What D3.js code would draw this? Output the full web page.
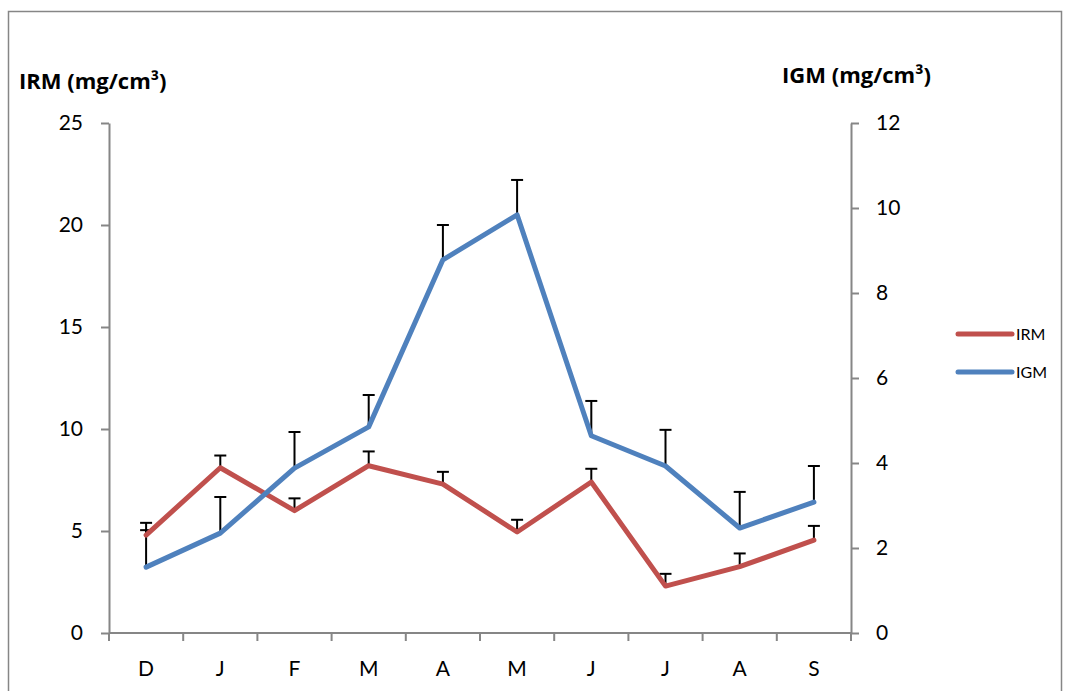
<!DOCTYPE html>
<html>
<head>
<meta charset="utf-8">
<script src="https://cdn.jsdelivr.net/npm/d3@7"></script>
<style>
  body { margin: 0; background: #fff; }
  svg text { font-family: Lato, "Open Sans", sans-serif; fill: #000; }
</style>
</head>
<body>
<svg id="chart"></svg>
<script>
// months, Dec to Sep
let months = ['D', 'J', 'F', 'M', 'A', 'M', 'J', 'J', 'A', 'S']
let irm = [4.8, 8.1, 6.0, 8.2, 7.3, 4.95, 7.4, 2.3, 3.25, 4.55]
let irmTop = [5.4, 8.7, 6.6, 8.9, 7.9, 5.55, 8.05, 2.9, 3.9, 5.25]
let igm = [1.55, 2.35, 3.88, 4.85, 8.78, 9.84, 4.64, 3.93, 2.47, 3.08]
let igmTop = [2.42, 3.2, 4.73, 5.6, 9.6, 10.66, 5.46, 4.78, 3.32, 3.93]
let leftTicks = [0, 5, 10, 15, 20, 25]
let rightTicks = [0, 2, 4, 6, 8, 10, 12]

let width = 1068
let height = 691
let plotLeft = 109, plotRight = 851, plotTop = 123, plotBottom = 633

let svg = d3.select('#chart').attr('width', width).attr('height', height)

// outer chart border
svg.append('rect')
   .attr('x', 8.5).attr('y', 11.5)
   .attr('width', 1053).attr('height', 700)
   .attr('fill', 'none').attr('stroke', '#868686').attr('stroke-width', 1.5)

let idx = d3.range(months.length)
let xScale = d3.scaleBand().domain(idx).range([plotLeft, plotRight])
let yLeft = d3.scaleLinear().domain([0, 25]).range([plotBottom, plotTop])
let yRight = d3.scaleLinear().domain([0, 12]).range([plotBottom, plotTop])
let cx = (i) => xScale(i) + xScale.bandwidth() / 2

// axes
let axisColor = '#868686'
let styleAxis = (g) => {
    g.select('.domain').attr('stroke', axisColor).attr('stroke-width', 2)
    g.selectAll('.tick line').attr('stroke', axisColor).attr('stroke-width', 2)
    g.selectAll('text').style('font-size', '21px')
}

svg.append('g')
   .attr('transform', 'translate(' + plotLeft + ',0)')
   .call(d3.axisLeft(yLeft).tickValues(leftTicks).tickSize(8).tickPadding(18).tickSizeOuter(0))
   .call(styleAxis)

svg.append('g')
   .attr('transform', 'translate(' + plotRight + ',0)')
   .call(d3.axisRight(yRight).tickValues(rightTicks).tickSize(8).tickPadding(17).tickSizeOuter(0))
   .call(styleAxis)

// x axis: ticks at band boundaries, labels centred
let xg = svg.append('g').attr('transform', 'translate(0,' + plotBottom + ')')
xg.append('line').attr('x1', plotLeft).attr('x2', plotRight)
  .attr('stroke', axisColor).attr('stroke-width', 2)
xg.selectAll('.xt')
  .data(d3.range(months.length + 1))
  .enter().append('line')
  .attr('x1', (i) => plotLeft + i * xScale.bandwidth())
  .attr('x2', (i) => plotLeft + i * xScale.bandwidth())
  .attr('y1', 0).attr('y2', 8)
  .attr('stroke', axisColor).attr('stroke-width', 2)
xg.selectAll('.xl')
  .data(months)
  .enter().append('text')
  .attr('x', (d, i) => cx(i))
  .attr('y', 43)
  .attr('text-anchor', 'middle')
  .style('font-size', '21px')
  .text((d) => d)

// axis titles
svg.append('text').attr('x', 19).attr('y', 89)
   .style('font-family', '"Open Sans", sans-serif')
   .style('font-size', '22px').style('font-weight', 'bold')
   .text('IRM (mg/cm³)')
svg.append('text').attr('x', 931).attr('y', 83)
   .attr('text-anchor', 'end')
   .style('font-family', '"Open Sans", sans-serif')
   .style('font-size', '22px').style('font-weight', 'bold')
   .text('IGM (mg/cm³)')

// error bars (upper only)
let drawErrors = (vals, tops, scale) => {
    let g = svg.append('g').attr('stroke', '#000').attr('stroke-width', 2)
    g.selectAll('.v').data(idx).enter().append('line')
     .attr('x1', cx).attr('x2', cx)
     .attr('y1', (i) => scale(vals[i])).attr('y2', (i) => scale(tops[i]))
    g.selectAll('.c').data(idx).enter().append('line')
     .attr('x1', (i) => cx(i) - 6).attr('x2', (i) => cx(i) + 6)
     .attr('y1', (i) => scale(tops[i])).attr('y2', (i) => scale(tops[i]))
}
drawErrors(irm, irmTop, yLeft)
drawErrors(igm, igmTop, yRight)

// lines
let drawLine = (vals, scale, color) => {
    let line = d3.line().x((d, i) => cx(i)).y((d) => scale(d))
    svg.append('path')
       .datum(vals)
       .attr('d', line)
       .attr('fill', 'none')
       .attr('stroke', color)
       .attr('stroke-width', 5)
       .attr('stroke-linejoin', 'round')
       .attr('stroke-linecap', 'round')
}
drawLine(irm, yLeft, '#C0504D')
drawLine(igm, yRight, '#4F81BD')

// legend
let legend = [['IRM', '#C0504D'], ['IGM', '#4F81BD']]
let lg = svg.selectAll('.lg').data(legend).enter().append('g')
   .attr('transform', (d, i) => 'translate(958,' + (334 + i * 38) + ')')
lg.append('line').attr('x1', 0).attr('x2', 54)
  .attr('stroke', (d) => d[1]).attr('stroke-width', 5).attr('stroke-linecap', 'round')
lg.append('text').attr('x', 58).attr('y', 6)
  .style('font-size', '16px').text((d) => d[0])
</script>
</body>
</html>
